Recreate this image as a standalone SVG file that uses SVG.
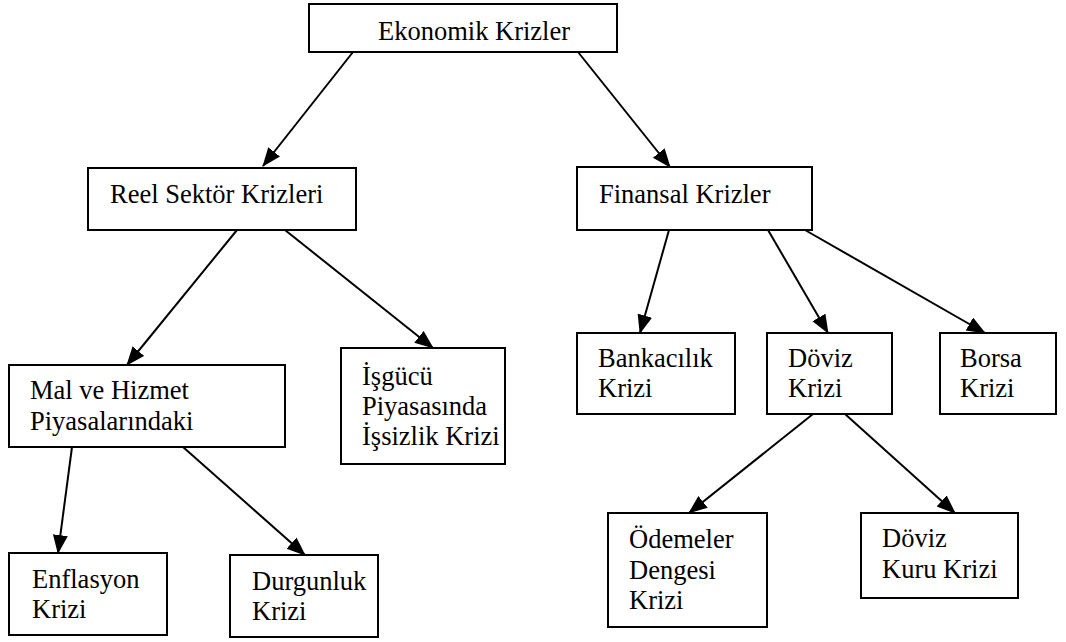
<svg xmlns="http://www.w3.org/2000/svg" width="1066" height="642" viewBox="0 0 1066 642">
<style>
.box{fill:#fff;stroke:#000;stroke-width:2}
.t{font-family:"Liberation Serif","Times New Roman",serif;font-size:26.5px;fill:#000}
.c{stroke:#000;stroke-width:2;fill:none;marker-end:url(#ah)}
</style>
<defs>
<marker id="ah" markerUnits="userSpaceOnUse" markerWidth="20" markerHeight="16" refX="18" refY="7.5" orient="auto">
<path d="M0,0 L19,7.5 L0,15 z" fill="#000"/>
</marker>
</defs>
<rect width="1066" height="642" fill="#fff"/>
<g id="connectors">
<line class="c" x1="353" y1="52" x2="263" y2="166"/>
<line class="c" x1="578" y1="52" x2="670" y2="167"/>
<line class="c" x1="237" y1="230" x2="127" y2="365"/>
<line class="c" x1="285" y1="230" x2="433" y2="348"/>
<line class="c" x1="669" y1="230" x2="640" y2="333"/>
<line class="c" x1="768" y1="230" x2="828" y2="333"/>
<line class="c" x1="805" y1="230" x2="985" y2="333"/>
<line class="c" x1="72" y1="447" x2="58" y2="553"/>
<line class="c" x1="183" y1="447" x2="305" y2="555"/>
<line class="c" x1="813" y1="414" x2="689" y2="513"/>
<line class="c" x1="845" y1="414" x2="955" y2="513"/>
</g>
<g id="ekonomik">
<rect class="box" x="309" y="4" width="308" height="48"/>
<text class="t" x="378" y="40">Ekonomik Krizler</text>
</g>
<g id="reel">
<rect class="box" x="88" y="168" width="268" height="62"/>
<text class="t" x="110" y="203">Reel Sektör Krizleri</text>
</g>
<g id="finansal">
<rect class="box" x="577" y="167" width="235" height="63"/>
<text class="t" x="599" y="203">Finansal Krizler</text>
</g>
<g id="mal">
<rect class="box" x="9" y="365" width="276" height="82"/>
<text class="t" x="30" y="399">Mal ve Hizmet</text>
<text class="t" x="30" y="430">Piyasalarındaki</text>
</g>
<g id="isgucu">
<rect class="box" x="341" y="348" width="164" height="116"/>
<text class="t" x="362" y="385">İşgücü</text>
<text class="t" x="362" y="415">Piyasasında</text>
<text class="t" x="362" y="445">İşsizlik Krizi</text>
</g>
<g id="bankacilik">
<rect class="box" x="577" y="333" width="158" height="81"/>
<text class="t" x="598" y="367">Bankacılık</text>
<text class="t" x="598" y="397">Krizi</text>
</g>
<g id="doviz">
<rect class="box" x="767" y="333" width="125" height="81"/>
<text class="t" x="788" y="367">Döviz</text>
<text class="t" x="788" y="397">Krizi</text>
</g>
<g id="borsa">
<rect class="box" x="940" y="333" width="116" height="81"/>
<text class="t" x="960" y="367">Borsa</text>
<text class="t" x="960" y="397">Krizi</text>
</g>
<g id="enflasyon">
<rect class="box" x="9" y="553" width="158" height="82"/>
<text class="t" x="32" y="588">Enflasyon</text>
<text class="t" x="32" y="618">Krizi</text>
</g>
<g id="durgunluk">
<rect class="box" x="230" y="555" width="148" height="82"/>
<text class="t" x="252" y="590">Durgunluk</text>
<text class="t" x="252" y="620">Krizi</text>
</g>
<g id="odemeler">
<rect class="box" x="608" y="513" width="159" height="114"/>
<text class="t" x="629" y="548">Ödemeler</text>
<text class="t" x="629" y="579">Dengesi</text>
<text class="t" x="629" y="609">Krizi</text>
</g>
<g id="dovizkuru">
<rect class="box" x="861" y="513" width="157" height="85"/>
<text class="t" x="882" y="547">Döviz</text>
<text class="t" x="882" y="578">Kuru Krizi</text>
</g>
</svg>
